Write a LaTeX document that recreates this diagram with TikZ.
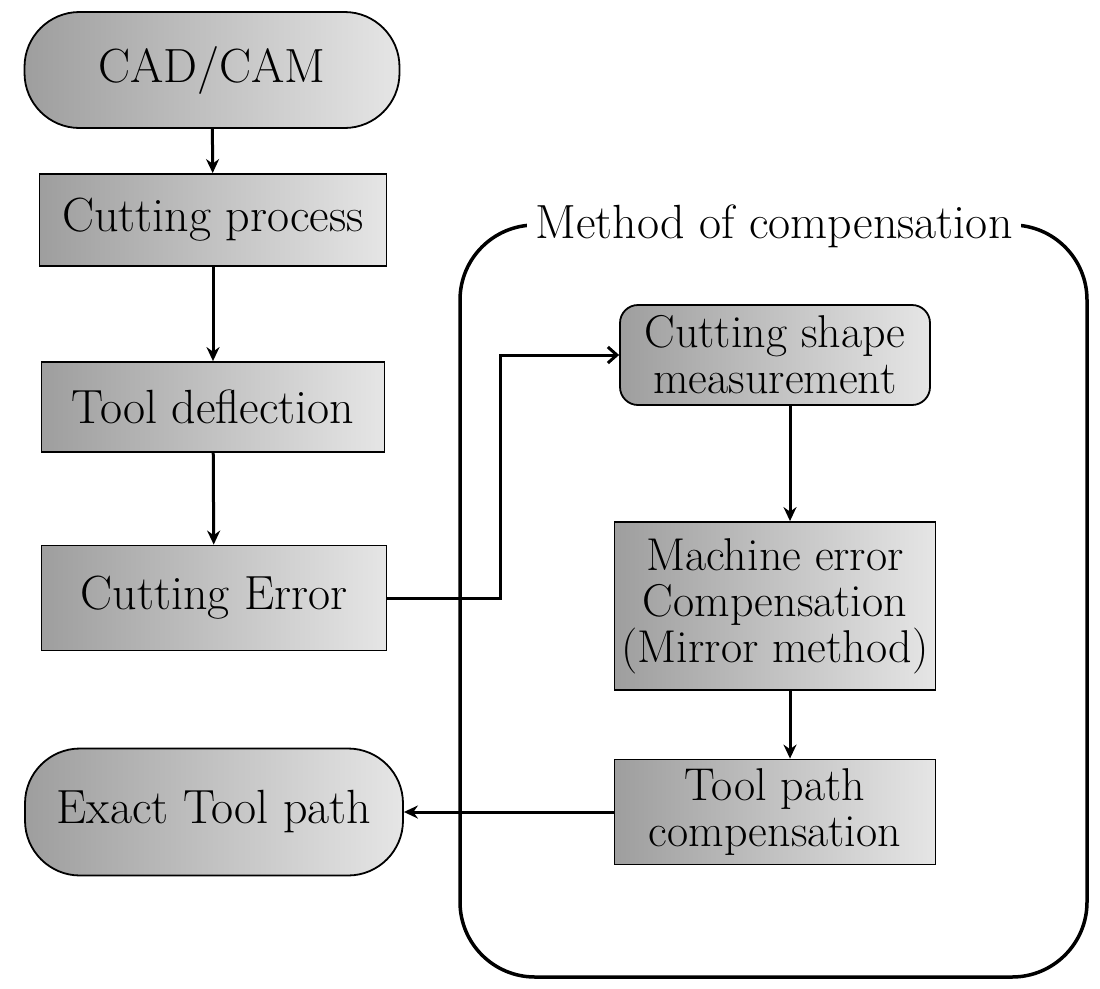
\documentclass[tikz,border=0pt]{standalone}
\usetikzlibrary{arrows.meta}
\begin{document}
\begin{tikzpicture}[x=1pt,y=-1pt,
  every node/.style={font=\fontsize{46}{46}\selectfont, align=center, inner sep=0pt},
  box/.style={draw, line width=1.8pt, left color=black!38, right color=black!10},
  term/.style={box, rounded corners=55pt},
  arr/.style={line width=3pt, -{Stealth[length=14pt,width=13pt]}},
  arrbarb/.style={line width=3pt, -{Straight Barb[length=9pt,width=16pt,line width=3pt]}},
]
\useasboundingbox (0,0) rectangle (1100,988);
% container
\node[draw, line width=3.5pt, rounded corners=75pt, minimum width=627pt, minimum height=752pt] (method) at (773.5,601) {};
\node[fill=white, inner xsep=8pt, inner ysep=2pt, anchor=base] (mtitle) at (774,238) {\fontsize{48}{48}\selectfont Method of compensation};
% left column
\node[term, minimum width=375pt, minimum height=116pt] (cad) at (212,70) {\fontsize{48}{48}\selectfont CAD/CAM};
\node[box, minimum width=347pt, minimum height=92pt] (cp) at (213,220) {\fontsize{48}{48}\selectfont Cutting process};
\node[box, minimum width=343pt, minimum height=90pt] (td) at (213,407) {\fontsize{48}{48}\selectfont Tool deflection};
\node[box, minimum width=345pt, minimum height=105pt] (err) at (214,598) {\fontsize{48}{48}\selectfont Cutting Error};
\node[term, minimum width=378pt, minimum height=127pt] (exact) at (214,812) {\fontsize{48}{48}\selectfont Exact Tool path};
% right column
\node[box, rounded corners=18pt, minimum width=310pt, minimum height=100pt] (csm) at (775,355) {Cutting shape\\measurement};
\node[box, minimum width=321pt, minimum height=168pt] (mec) at (775,606) {Machine error\\Compensation\\(Mirror method)};
\node[box, minimum width=321pt, minimum height=105pt] (tpc) at (775,812) {Tool path\\compensation};
% connectors
\draw[arr] (cad) -- (cp);
\draw[arr] (cp) -- (td);
\draw[arr] (td) -- (err);
\coordinate (j) at (500,598);
\draw[arrbarb] (err.east) -- (j) |- (csm.west);
\draw[arr] ([xshift=15pt]csm.south) -- ([xshift=15pt]mec.north);
\draw[arr] ([xshift=15pt]mec.south) -- ([xshift=15pt]tpc.north);
\draw[arr] (tpc.west) -- (exact.east);
\end{tikzpicture}
\end{document}
